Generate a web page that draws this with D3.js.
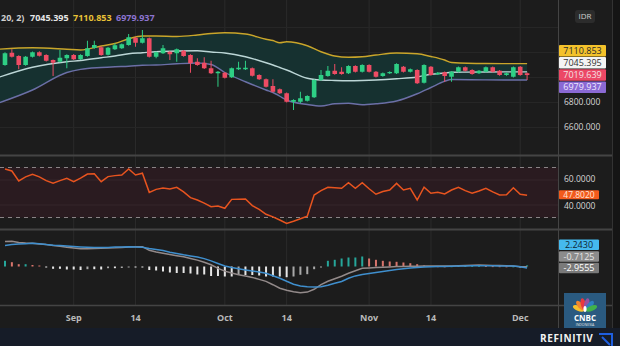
<!DOCTYPE html>
<html><head><meta charset="utf-8">
<script src="https://cdn.jsdelivr.net/npm/d3@7"></script>
<style>
html,body{margin:0;padding:0;background:#1c1c1c;overflow:hidden;}
svg{display:block;font-family:"Open Sans","Noto Sans",sans-serif;}
</style></head><body><svg id="c" width="620" height="346"></svg>
<script>
// ---------- DATA ----------
const tickIndex = [10, 19, 32, 41, 53, 62, 75];
const tickLabels = ["Sep", "14", "Oct", "14", "Nov", "14", "Dec"];

const open  = [7100,7198,7172,7100,7166,7202,7180,7140,7126,7154,7180,7146,7172,7236,7242,7182,7226,7234,7260,7318,7278,7314,7166,7194,7206,7194,7214,7180,7126,7118,7074,7034,7038,7002,7066,7066,7074,7020,6986,6932,6906,6874,6806,6806,6814,6842,6980,7012,7054,7046,7034,7092,7046,7100,7046,7012,7034,7034,7086,7046,7060,6958,7086,7026,7042,7006,7046,7082,7060,7034,7046,7082,7054,7020,7006,7086,7034];
const high  = [7202,7226,7178,7172,7208,7210,7186,7144,7220,7186,7188,7186,7294,7294,7250,7244,7274,7272,7348,7326,7380,7320,7208,7260,7212,7232,7220,7186,7154,7162,7134,7052,7044,7080,7126,7134,7080,7026,6992,6986,6912,6880,6826,6886,6858,6986,7060,7092,7108,7082,7098,7098,7106,7106,7052,7040,7050,7114,7092,7072,7066,7106,7092,7044,7048,7052,7088,7088,7066,7060,7088,7088,7060,7040,7088,7092,7040];
const low   = [7094,7160,7066,7094,7160,7168,7128,7012,7120,7074,7140,7140,7166,7230,7174,7176,7220,7228,7254,7246,7272,7160,7154,7188,7140,7126,7166,7038,7094,7068,7028,6926,6992,6996,7060,7060,7008,6980,6920,6880,6868,6800,6740,6794,6808,6836,6974,7006,7022,7022,7028,7040,7040,7040,7000,7006,7028,7028,7040,7040,6948,6952,7014,7020,6966,6966,7040,7048,7022,7028,7040,7040,7014,7014,7000,7014,6980];
const close = [7194,7166,7100,7166,7202,7174,7134,7118,7158,7180,7146,7180,7234,7260,7180,7238,7258,7266,7322,7278,7314,7166,7202,7234,7186,7226,7172,7114,7100,7074,7034,7046,6998,7074,7078,7078,7014,6986,6926,6886,6874,6806,6820,6834,6852,6980,7020,7054,7028,7028,7092,7046,7100,7046,7006,7034,7044,7108,7046,7066,6954,7100,7020,7038,7012,7046,7082,7054,7028,7054,7082,7046,7020,7034,7082,7020,7019.639];

// Bollinger Bands (20, 2) read at sampled bars
const bbIndex = [-1,4,9,11,14,16,18,20,22,25,28,30,32,35,38,39,40,41,44,46,48,50,52,54,57,60,62,64,65,70,76];
const bbUpper = [7226,7238,7226,7220,7252,7272,7310,7332,7332,7328,7340,7352,7358,7348,7306,7296,7278,7286,7254,7206,7172,7162,7166,7180,7196,7190,7168,7140,7120,7112,7110.853];
const bbMiddle= [7000,7082,7126,7136,7158,7172,7190,7198,7206,7212,7214,7204,7196,7166,7118,7100,7080,7060,6994,6980,6976,6974,6976,6980,6990,7004,7026,7036,7042,7044,7045.395];
const bbLower = [6795,6900,7040,7065,7080,7086,7090,7098,7100,7110,7116,7104,7040,6966,6900,6880,6850,6820,6784,6772,6790,6794,6782,6790,6812,6870,6920,6970,6984,6981,6979.937];

const rsi = [68.8,67.2,59.2,62.5,64.5,62.5,59.5,57.5,59.5,61.3,58.7,61.5,64.8,65,58.7,62.7,63.5,64,68.8,64,65.4,50.1,52.5,53.5,52.8,54.1,50.5,45.9,44,41.5,38.7,39.2,37.4,44.5,44.6,44.8,39.5,36.5,32.6,30.5,28,25.3,27,29,31,48,51.5,54.2,53.8,53.4,57.9,53.4,57.9,53,48.6,50.8,52,57.3,52,53.4,44,54.2,49.4,50.2,48.8,52,54.2,51.5,49.4,51.2,53.4,50.5,48,48.2,53.8,48.6,47.802];

const macdLine = [50.2,50.4,48,47,46.4,45.2,43.8,42.2,40.4,38.4,37,35.4,35.4,36,36.4,37,37.4,38.2,39,39.6,39.6,32.4,29,26.6,24,21.6,19.4,16,12.8,8.6,3.4,-3.8,-9.2,-13,-16.4,-19.2,-21.8,-25.8,-29.8,-36.4,-43.4,-47.4,-50.6,-52.6,-51.2,-45.6,-36.2,-29.6,-24.6,-19.4,-13.6,-8.4,-3.6,-3,-2.2,-1.4,-0.8,-0.2,0.2,0.4,0.6,0.8,1,1,1,1.2,1.6,2,2.6,3,2.6,2.2,1.8,1.4,1,-0.4,-0.7125];
const signalLine = [42.2,43.8,44.8,45.6,46.4,45.4,43.8,42.6,41.8,41,40,39.2,38.6,38,37.8,38.2,38.8,39.2,39.4,39.2,38.4,36,34.2,31.8,28.6,26,23.4,21.2,19.2,15.8,11.2,6,1,-2,-4.4,-6.8,-9.2,-10.8,-13.4,-18.4,-23.4,-29.6,-35.4,-38.8,-40.6,-41.2,-40.6,-37.4,-33.6,-30,-23.4,-18.8,-16,-14,-12,-9.8,-8,-6.2,-4.4,-3,-2.2,-1.2,-0.4,0,0.2,0.6,1,1.2,1.4,1.6,1.4,1.4,1.2,1.2,1,-0.4,-2.9555];
const histogram = [11.4,8.6,4.6,4.6,3,2,-2,-4.6,-4.6,-6,-6,-7,-5.4,-5.4,-6,-3.4,-3.4,-3,-1,-1,-2,-7,-8,-10,-12,-13,-13,-14,-16,-16,-19,-19,-20,-20,-17,-17,-17,-18,-20,-20,-20,-21.4,-20,-16.6,-15.4,-5.4,-1,11.4,13.4,16,18,18,20,16,13.4,11.4,10,9.4,8,6.6,4.6,2,1,0.6,0.4,0.6,1,1.2,1.4,1.6,1.2,0.8,0.6,0.4,0.4,-0.6,2.243];

const priceAxisTicks = [6600, 6800];
const priceGrid = [6600, 6800, 7000, 7200, 7400];
const rsiAxisTicks = [60, 40];

// ---------- LAYOUT ----------
const W = 620, H = 346, plotR = 558;
const svg = d3.select('#c');
svg.append('rect').attr('width', W).attr('height', H).attr('fill', '#1c1c1c');
svg.append('rect').attr('x', 613).attr('width', 7).attr('height', 328).attr('fill', '#151515');

const x = d3.scaleLinear().domain([0, 76]).range([5, 527.1]);
const yP = d3.scaleLinear().domain([6600, 6800]).range([127.5, 102.5]);
const yR = d3.scaleLinear().domain([30, 70]).range([217.5, 167.5]);
const yM = d3.scaleLinear().domain([-60, 60]).range([296.5, 236.5]);

const defs = svg.append('defs');
function clip(id, y0, h) {
  defs.append('clipPath').attr('id', id).append('rect').attr('x', 0).attr('y', y0).attr('width', plotR).attr('height', h);
}
clip('cp', 0, 155); clip('cr', 157, 72); clip('cm', 231, 74);

// vertical grid
svg.append('g').selectAll('line').data(tickIndex).join('line')
  .attr('x1', d => x(d)).attr('x2', d => x(d)).attr('y1', 0).attr('y2', 305)
  .attr('stroke', '#2b2b2b').attr('stroke-width', 1);

// ---------- PRICE PANEL ----------
const gp = svg.append('g').attr('clip-path', 'url(#cp)');
gp.selectAll('line.g').data(priceGrid).join('line')
  .attr('x1', 0).attr('x2', plotR).attr('y1', d => yP(d)).attr('y2', d => yP(d))
  .attr('stroke', '#262626');

const bb = bbIndex.map((d, i) => ({ i: d, u: bbUpper[i], m: bbMiddle[i], l: bbLower[i] }));
gp.append('path').datum(bb)
  .attr('d', d3.area().x(d => x(d.i)).y0(d => yP(d.l)).y1(d => yP(d.u)).curve(d3.curveMonotoneX))
  .attr('fill', '#163130');
const bandLine = key => d3.line().x(d => x(d.i)).y(d => yP(d[key])).curve(d3.curveMonotoneX);
gp.append('path').datum(bb).attr('d', bandLine('u')).attr('fill', 'none').attr('stroke', '#c9a52a').attr('stroke-width', 1.4);
gp.append('path').datum(bb).attr('d', bandLine('l')).attr('fill', 'none').attr('stroke', '#6b6fa6').attr('stroke-width', 1.4);
gp.append('path').datum(bb).attr('d', bandLine('m')).attr('fill', 'none').attr('stroke', '#bcd6d6').attr('stroke-width', 1.4);

const up = '#2ecf85', dn = '#ee4c64';
const candles = close.map((c, i) => ({ i, o: open[i], h: high[i], l: low[i], c }));
const cg = gp.append('g');
cg.selectAll('line').data(candles).join('line')
  .attr('x1', d => x(d.i)).attr('x2', d => x(d.i))
  .attr('y1', d => yP(d.h)).attr('y2', d => yP(d.l))
  .attr('stroke', d => d.c >= d.o ? up : dn).attr('stroke-width', 1);
cg.selectAll('rect').data(candles).join('rect')
  .attr('x', d => x(d.i) - 2.3).attr('width', 4.6)
  .attr('y', d => yP(Math.max(d.o, d.c)))
  .attr('height', d => Math.max(1, Math.abs(yP(d.o) - yP(d.c))))
  .attr('fill', d => d.c >= d.o ? up : dn);

// legend (left part of the study title is outside the view in the reference)
const lg = svg.append('text').attr('y', 21).attr('font-size', 9).attr('font-weight', 700);
lg.append('tspan').attr('x', 1).attr('fill', '#cfcfcf').text('20, 2)');
lg.append('tspan').attr('x', 30).attr('fill', '#e6e6e6').text(bbMiddle[bbMiddle.length - 1].toFixed(3));
lg.append('tspan').attr('x', 73).attr('fill', '#e9c237').text(bbUpper[bbUpper.length - 1].toFixed(3));
lg.append('tspan').attr('x', 116).attr('fill', '#8c74d0').text(bbLower[bbLower.length - 1].toFixed(3));

// ---------- RSI PANEL ----------
const gr = svg.append('g').attr('clip-path', 'url(#cr)');
gr.append('rect').attr('x', 0).attr('width', plotR).attr('y', yR(70)).attr('height', yR(30) - yR(70)).attr('fill', '#2a1b20');
gr.selectAll('line.g').data(rsiAxisTicks).join('line')
  .attr('x1', 0).attr('x2', plotR).attr('y1', d => yR(d)).attr('y2', d => yR(d)).attr('stroke', '#35272b');
gr.selectAll('line.d').data([70, 30]).join('line')
  .attr('x1', 0).attr('x2', plotR).attr('y1', d => yR(d)).attr('y2', d => yR(d))
  .attr('stroke', '#8a8486').attr('stroke-dasharray', '4,4').attr('stroke-width', 1);
gr.append('path').datum(rsi)
  .attr('d', d3.line().x((d, i) => x(i)).y(d => yR(d)))
  .attr('fill', 'none').attr('stroke', '#e8541f').attr('stroke-width', 1.5);

// ---------- MACD PANEL ----------
const gm = svg.append('g').attr('clip-path', 'url(#cm)');
gm.selectAll('rect').data(histogram).join('rect')
  .attr('x', (d, i) => x(i) - 1).attr('width', 2)
  .attr('y', d => yM(Math.max(0, d))).attr('height', d => Math.max(1, Math.abs(yM(d) - yM(0))))
  .attr('fill', (d, i) => {
    const p = i > 0 ? histogram[i - 1] : d;
    if (d >= 0) return d >= p ? '#26a69a' : (i === 0 ? '#7fb8d8' : '#d9756c');
    return d <= p ? '#e6e6e6' : '#a8a8a8';
  });
gm.append('path').datum(macdLine)
  .attr('d', d3.line().x((d, i) => x(i)).y(d => yM(d)))
  .attr('fill', 'none').attr('stroke', '#938a8a').attr('stroke-width', 1.5);
gm.append('path').datum(signalLine)
  .attr('d', d3.line().x((d, i) => x(i)).y(d => yM(d)))
  .attr('fill', 'none').attr('stroke', '#3f8fce').attr('stroke-width', 1.5);

// ---------- SEPARATORS ----------
[[155.5, 2], [229.5, 2], [305.5, 1.5]].forEach(([yy, w]) => {
  svg.append('line').attr('x1', 0).attr('x2', 612).attr('y1', yy).attr('y2', yy).attr('stroke', '#444').attr('stroke-width', w);
});
svg.append('line').attr('x1', plotR + 0.5).attr('x2', plotR + 0.5).attr('y1', 0).attr('y2', 328).attr('stroke', '#444');
svg.append('line').attr('x1', 612.5).attr('x2', 612.5).attr('y1', 0).attr('y2', 328).attr('stroke', '#333');

// ---------- TIME AXIS ----------
svg.append('g').selectAll('text').data(tickIndex).join('text')
  .attr('x', d => x(d)).attr('y', 321).attr('text-anchor', 'middle')
  .attr('font-size', 9).attr('font-weight', 700).attr('fill', '#b9b9b9')
  .text((d, i) => tickLabels[i]);

// ---------- RIGHT AXIS LABELS ----------
function axisText(yy, t) {
  svg.append('text').attr('x', 564).attr('y', yy).attr('dy', '0.35em')
    .attr('font-size', 8.5).attr('fill', '#d6d6d6').text(t);
}
priceAxisTicks.forEach(v => axisText(yP(v), v.toFixed(3)));
axisText(yR(60) - 0.5, (60).toFixed(4));
axisText(yR(40) + 1.5, (40).toFixed(4));

function tag(yy, t, bg, fg, w, h, fs) {
  svg.append('rect').attr('x', plotR + 1).attr('y', yy - h / 2).attr('width', w).attr('height', h).attr('rx', 1).attr('fill', bg);
  svg.append('text').attr('x', plotR + 1 + w / 2).attr('y', yy).attr('dy', '0.36em').attr('text-anchor', 'middle')
    .attr('font-size', fs || 9).attr('fill', fg).text(t);
}
function stack(items, anchorIdx, gap) {
  const ys = items.map(d => d.y);
  for (let k = anchorIdx - 1; k >= 0; k--) ys[k] = Math.min(ys[k], ys[k + 1] - gap);
  for (let k = anchorIdx + 1; k < items.length; k++) ys[k] = Math.max(ys[k], ys[k - 1] + gap);
  return ys;
}
const pItems = [
  { v: bbUpper[bbUpper.length - 1], bg: '#f4c22b', fg: '#2a2a2a' },
  { v: bbMiddle[bbMiddle.length - 1], bg: '#f4f4f4', fg: '#333' },
  { v: close[close.length - 1], bg: '#ec4866', fg: '#f3e0e4' },
  { v: bbLower[bbLower.length - 1], bg: '#8a69d4', fg: '#eee8ff' }
].map(d => ({ ...d, y: yP(d.v) }));
stack(pItems, 2, 12.2).forEach((yy, k) => tag(yy, pItems[k].v.toFixed(3), pItems[k].bg, pItems[k].fg, 47, 11.5));

tag(yR(rsi[rsi.length - 1]) - 0.5, rsi[rsi.length - 1].toFixed(4), '#f25a1c', '#ffe6da', 40, 9, 8.5);

const mItems = [
  { v: histogram[histogram.length - 1], bg: '#45b9ee', fg: '#0e2633' },
  { v: macdLine[macdLine.length - 1], bg: '#8c8c8c', fg: '#e6e6e6' },
  { v: signalLine[signalLine.length - 1], bg: '#7a7a7a', fg: '#ffffff' }
].map(d => ({ ...d, y: yM(d.v) }));
stack(mItems, 2, 11.6).forEach((yy, k) => tag(yy, mItems[k].v.toFixed(4), mItems[k].bg, mItems[k].fg, 40, 10.5));

// IDR badge
svg.append('rect').attr('x', 575).attr('y', 10).attr('width', 20).attr('height', 13).attr('rx', 3).attr('fill', '#2c2c2c');
svg.append('text').attr('x', 585).attr('y', 16.5).attr('dy', '0.35em').attr('text-anchor', 'middle')
  .attr('font-size', 8).attr('fill', '#cfcfcf').text('IDR');

// ---------- FOOTER ----------
svg.append('rect').attr('x', 0).attr('y', 328).attr('width', W).attr('height', 18).attr('fill', '#161c28');
svg.append('text').attr('x', 540).attr('y', 342).attr('font-size', 10).attr('font-weight', 700)
  .attr('letter-spacing', 0.6).attr('fill', '#f2f2f2').text('REFINITIV');
const ri = svg.append('g').attr('stroke', '#1f5fe0').attr('stroke-width', 2).attr('fill', 'none');
ri.append('path').attr('d', 'M599,334 L612,334 L612,346');
ri.append('path').attr('d', 'M602,337 L610,345');

// CNBC logo
const lg2 = svg.append('g');
lg2.append('rect').attr('x', 564).attr('y', 293).attr('width', 42).attr('height', 35).attr('fill', '#2a5a80');
const feathers = ['#f6c02c', '#f0862e', '#e8383f', '#9b4f9e', '#2f7fc1', '#41b24a'];
feathers.forEach((c, k) => {
  const ang = -68 + k * 27.2;
  lg2.append('ellipse').attr('cx', 585).attr('cy', 304).attr('rx', 2.6).attr('ry', 6)
    .attr('fill', c).attr('transform', `rotate(${ang},585,311)`);
});
lg2.append('ellipse').attr('cx', 585).attr('cy', 309).attr('rx', 1.6).attr('ry', 3).attr('fill', '#ffffff');
lg2.append('text').attr('x', 585).attr('y', 321).attr('text-anchor', 'middle').attr('font-size', 8)
  .attr('font-weight', 700).attr('fill', '#ffffff').text('CNBC');
lg2.append('text').attr('x', 585).attr('y', 325.5).attr('text-anchor', 'middle').attr('font-size', 3.5)
  .attr('fill', '#e0e0e0').text('INDONESIA');
</script></body></html>
